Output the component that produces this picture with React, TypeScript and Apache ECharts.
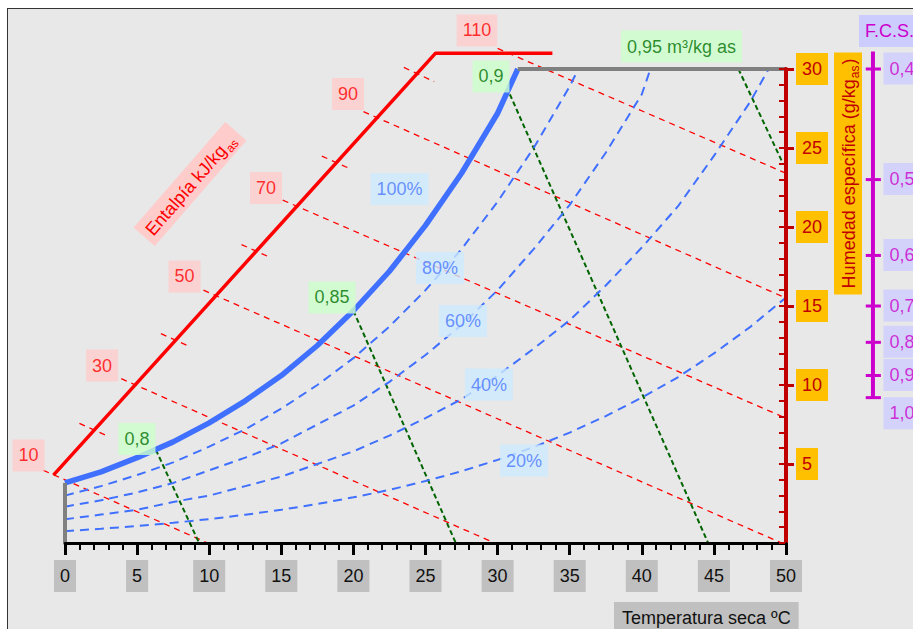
import React, { useEffect, useRef } from "react";
import * as echarts from "echarts";

const FONT = '"Liberation Sans", Arial, Helvetica, sans-serif';

// ---- Data ----
// Dry-bulb temperature (°C) for the relative humidity curves
const rhTemps = [0, 2.5, 5, 7.5, 10, 12.5, 15, 17.5, 20, 22.5, 25, 27.5, 30, 32.5, 35, 37.5, 40, 42.5, 45, 47.5, 50];
// Saturation curve (100 %)
const satTemps = [0, 2.5, 5, 7.5, 10, 12.5, 15, 17.5, 20, 22.5, 25, 27.5, 30, 31.4];
const satW = [3.8, 4.5, 5.4, 6.4, 7.6, 9.0, 10.6, 12.5, 14.7, 17.2, 20.1, 23.4, 27.2, 30.0];
// Relative humidity curves (g/kg)
const rh80W = [3.0, 3.6, 4.3, 5.1, 6.1, 7.2, 8.5, 10.0, 11.7, 13.7, 16.0, 18.6, 21.6, 25.0, 28.9];
const rh80End = [35.6, 30.0];
const rh60W = [2.3, 2.7, 3.2, 3.8, 4.6, 5.4, 6.3, 7.5, 8.7, 10.2, 11.9, 13.8, 16.0, 18.6, 21.4, 24.7, 28.4];
const rh60End = [40.6, 30.0];
const rh40W = [1.5, 1.8, 2.1, 2.6, 3.0, 3.6, 4.2, 5.0, 5.8, 6.8, 7.9, 9.1, 10.6, 12.3, 14.1, 16.3, 18.7, 21.3, 24.5, 27.9];
const rh40End = [48.8, 30.0];
const rh20W = [0.75, 0.9, 1.07, 1.28, 1.51, 1.79, 2.1, 2.47, 2.89, 3.36, 3.92, 4.54, 5.26, 6.07, 6.99, 8.03, 9.2, 10.49, 12.0, 13.66, 15.54];
const rhLabels = ["100%", "80%", "60%", "40%", "20%"];
const rhLabelPos = [[23.2, 22.4], [26.0, 17.4], [27.6, 14.05], [29.4, 10.03], [31.83, 5.22]];

// Enthalpy lines (kJ/kg as): start / end points [T, w]
const enthalpyValues = [10, 30, 50, 70, 90, 110];
const enthalpyStart = [[-1.5, 4.6], [3.9, 10.4], [9.6, 16.0], [15.1, 21.7], [20.7, 27.3], [30.0, 31.3]];
const enthalpyEnd = [[9.9, 0], [29.8, 0], [49.7, 0], [50, 7.9], [50, 15.5], [50, 23.4]];
const enthalpyLabelPos = [[-2.53, 5.54], [2.57, 11.23], [8.29, 16.87], [13.94, 22.47], [19.63, 28.42], [28.57, 32.44]];
// Intermediate enthalpy marks (20, 40, 60, 80, 100)
const enthalpyTickValues = [20, 40, 60, 80, 100];
const enthalpyTickStart = [[1.0, 7.57], [6.65, 13.25], [12.24, 18.89], [17.81, 24.49], [23.5, 30.1]];
const enthalpyTickEnd = [[3.0, 6.75], [8.65, 12.43], [14.24, 18.07], [19.81, 23.67], [25.6, 29.2]];
// Enthalpy scale line
const enthalpyScale = [[-0.8, 4.3], [25.7, 31.0], [33.8, 31.0]];

// Specific volume lines (m3/kg as)
const volumeLabels = ["0,8", "0,85", "0,9", "0,95 m³/kg as"];
const volumeStart = [[6.3, 5.9], [20.0, 14.7], [30.85, 28.4], [46.7, 30.0]];
const volumeEnd = [[9.3, 0], [27.1, 0], [44.6, 0], [49.8, 24.0]];
const volumeLabelPos = [[4.99, 6.58], [18.52, 15.54], [29.54, 29.53], [42.75, 31.42]];

// Chart boundary lines
const boundaryLeft = [[0, 0], [0, 3.8]];
const boundaryTop = [[31.4, 30], [50, 30]];

// Sensible heat factor (F.C.S.) scale
const fcsLabels = ["0,4", "0,5", "0,6", "0,7", "0,8", "0,9", "1,0"];
const fcsW = [30.0, 23.0, 18.2, 15.0, 12.7, 10.6, 9.2];
const fcsBarTopW = 31.1;
const FCS_T = 56.03;

const pairs = (xs: number[], ys: number[]) => ys.map((y, i) => [xs[i], y]);

// the series live on a wider hidden grid whose scale coincides with the visible axes
const X_PX = 721 / 50;
const Y_PX = 474 / 30;
const WIDE_X = [-4, 58];
const WIDE_Y = [-5, 34];

function lineSeries(data: any[], color: string, width: number, type: any, z = 2) {
  return {
    type: "line",
    xAxisIndex: 1,
    yAxisIndex: 2,
    data,
    showSymbol: false,
    symbol: "none",
    clip: false,
    silent: true,
    smooth: false,
    z,
    lineStyle: { color, width, type, cap: "butt" },
    emphasis: { disabled: true },
  };
}

function labelSeries(texts: string[], positions: number[][], bg: string, color: string) {
  return {
    type: "scatter",
    xAxisIndex: 1,
    yAxisIndex: 2,
    symbolSize: 1,
    clip: false,
    silent: true,
    z: 20,
    itemStyle: { color: "rgba(0,0,0,0)" },
    data: texts.map((t, i) => ({ value: positions[i], name: t })),
    label: {
      show: true,
      position: "inside",
      formatter: "{b}",
      backgroundColor: bg,
      color,
      fontSize: 18,
      fontFamily: FONT,
      lineHeight: 18,
      padding: [7, 6],
    },
    emphasis: { disabled: true },
  };
}

function buildOption() {
  const blue = "#4070ff";
  const series: any[] = [];

  enthalpyValues.forEach((_, i) => {
    series.push(lineSeries([enthalpyStart[i], enthalpyEnd[i]], "#ff0000", 1.3, [6, 5], 3));
  });
  enthalpyTickValues.forEach((_, i) => {
    series.push(lineSeries([enthalpyTickStart[i], enthalpyTickEnd[i]], "#ff0000", 1.3, [6, 5], 3));
  });
  volumeLabels.forEach((_, i) => {
    series.push(lineSeries([volumeStart[i], volumeEnd[i]], "#006400", 2, [5, 3], 4));
  });
  series.push(lineSeries(pairs(rhTemps, rh80W).concat([rh80End]), blue, 2, [9, 6], 5));
  series.push(lineSeries(pairs(rhTemps, rh60W).concat([rh60End]), blue, 2, [9, 6], 5));
  series.push(lineSeries(pairs(rhTemps, rh40W).concat([rh40End]), blue, 2, [9, 6], 5));
  series.push(lineSeries(pairs(rhTemps, rh20W), blue, 2, [9, 6], 5));
  series.push(lineSeries(pairs(satTemps, satW), blue, 5.5, "solid", 6));
  series.push(lineSeries(enthalpyScale, "#ff0000", 3.5, "solid", 6));
  series.push(lineSeries(boundaryLeft, "#808080", 4, "solid", 6));
  series.push(lineSeries(boundaryTop, "#808080", 4, "solid", 6));
  series.push(lineSeries([[FCS_T, fcsW[fcsW.length - 1]], [FCS_T, fcsBarTopW]], "#cc00cc", 4, "solid", 6));
  fcsW.forEach((w) => {
    series.push(lineSeries([[FCS_T - 0.5, w], [FCS_T + 0.55, w]], "#cc00cc", 3, "solid", 6));
  });

  series.push(labelSeries(enthalpyValues.map(String), enthalpyLabelPos, "#ffcccc", "#ff0000"));
  series.push(labelSeries(rhLabels, rhLabelPos, "#cdeaff", "#4a78ff"));
  series.push(labelSeries(volumeLabels, volumeLabelPos, "#ccffcc", "#007000"));
  series.push({
    type: "scatter",
    xAxisIndex: 1,
    yAxisIndex: 2,
    symbolSize: 1,
    clip: false,
    silent: true,
    z: 20,
    itemStyle: { color: "rgba(0,0,0,0)" },
    data: fcsLabels.map((t, i) => ({
      value: [FCS_T, fcsW[i]],
      name: t,
      label: i === fcsLabels.length - 1 ? { verticalAlign: "top" } : {},
    })),
    label: {
      show: true,
      position: [11, 0],
      align: "left",
      verticalAlign: "middle",
      formatter: "{b}",
      backgroundColor: "#ccccff",
      color: "#cc00cc",
      fontSize: 18,
      fontFamily: FONT,
      lineHeight: 18,
      padding: [7, 6],
    },
    emphasis: { disabled: true },
  });

  const richSub = (color: string) => ({
    n: { fontSize: 18, fontFamily: FONT, fill: color, color, lineHeight: 18, verticalAlign: "top" },
    s: { fontSize: 12, fontFamily: FONT, fill: color, color, lineHeight: 12, verticalAlign: "top", padding: [9, 1, 0, 1] },
  });

  const gl = 65, gr = 127, gt = 69, gb = 86;
  const wideGrid = {
    left: gl + WIDE_X[0] * X_PX,
    right: gr - (WIDE_X[1] - 50) * X_PX,
    top: gt - (WIDE_Y[1] - 30) * Y_PX,
    bottom: gb + WIDE_Y[0] * Y_PX,
    containLabel: false,
  };

  return {
    animation: false,
    backgroundColor: "transparent",
    grid: [{ left: gl, right: gr, top: gt, bottom: gb, containLabel: false }, wideGrid],
    xAxis: [
      {
        type: "value",
        gridIndex: 0,
        min: 0,
        max: 50,
        interval: 5,
        splitLine: { show: false },
        axisLine: { show: true, onZero: false, lineStyle: { color: "#000", width: 3 } },
        axisTick: { show: true, length: 12, lineStyle: { color: "#000", width: 3 } },
        minorTick: { show: true, splitNumber: 5, length: 7, lineStyle: { color: "#000", width: 2 } },
        axisLabel: {
          margin: 17,
          color: "#111",
          fontSize: 18,
          fontFamily: FONT,
          backgroundColor: "#c0c0c0",
          padding: [7, 6],
          lineHeight: 18,
        },
        z: 8,
      },
      { type: "value", gridIndex: 1, min: WIDE_X[0], max: WIDE_X[1], show: false },
    ],
    yAxis: [
      {
        type: "value",
        gridIndex: 0,
        position: "right",
        min: 0,
        max: 30,
        interval: 5,
        splitLine: { show: false },
        axisLine: { show: true, onZero: false, lineStyle: { color: "#c00000", width: 4 } },
        axisTick: { show: true, inside: false, length: 8, lineStyle: { color: "#c00000", width: 3 } },
        axisLabel: {
          show: true,
          showMinLabel: false,
          margin: 10,
          color: "#c00000",
          fontSize: 18,
          fontFamily: FONT,
          backgroundColor: "#ffc000",
          padding: [7, 6],
          lineHeight: 18,
        },
        z: 8,
      },
      {
        type: "value",
        gridIndex: 0,
        position: "right",
        min: 0,
        max: 30,
        interval: 1,
        splitLine: { show: false },
        axisLine: { show: false, onZero: false },
        axisTick: { show: true, inside: true, length: 7, lineStyle: { color: "#c00000", width: 2 } },
        axisLabel: { show: false },
        z: 8,
      },
      { type: "value", gridIndex: 1, min: WIDE_Y[0], max: WIDE_Y[1], show: false },
    ],
    graphic: [
      {
        type: "text",
        x: 614,
        y: 602,
        z: 100,
        style: {
          text: "Temperatura seca ºC",
          fontSize: 18,
          fontFamily: FONT,
          fill: "#111",
          backgroundColor: "#c0c0c0",
          padding: [7, 8],
          align: "left",
          verticalAlign: "top",
        },
      },
      {
        type: "text",
        x: 190,
        y: 184,
        z: 100,
        rotation: (49 * Math.PI) / 180,
        style: {
          text: "{n|Entalpía kJ/kg}{s|as}",
          rich: richSub("#ff0000"),
          fill: "#ff0000",
          backgroundColor: "#ffcccc",
          padding: [6, 6, 4, 6],
          align: "center",
          verticalAlign: "middle",
        },
      },
      {
        type: "text",
        x: 848,
        y: 173.5,
        z: 100,
        rotation: Math.PI / 2,
        style: {
          text: "{n|Humedad específica (g/kg}{s|as}{n|)}",
          rich: richSub("#c00000"),
          fill: "#c00000",
          backgroundColor: "#ffc000",
          padding: [6, 6, 4, 6],
          align: "center",
          verticalAlign: "middle",
        },
      },
      {
        type: "text",
        x: 859,
        y: 15,
        z: 100,
        style: {
          text: "F.C.S.",
          fontSize: 18,
          fontFamily: FONT,
          fill: "#cc00cc",
          backgroundColor: "#ccccff",
          padding: [7, 6],
          align: "left",
          verticalAlign: "top",
        },
      },
    ],
    series,
  };
}

export default function App() {
  const ref = useRef<HTMLDivElement>(null);
  useEffect(() => {
    const chart = echarts.init(ref.current as HTMLDivElement, null, { renderer: "svg" });
    chart.setOption(buildOption() as any);
    return () => chart.dispose();
  }, []);
  return (
    <div style={{ position: "fixed", left: 0, top: 0, width: 913, height: 629, overflow: "hidden", background: "#fff" }}>
      <div
        style={{
          position: "absolute",
          left: 7,
          top: 8,
          width: 1000,
          height: 1000,
          border: "1.5px solid #333",
          background: "#e8e8e8",
        }}
      />
      <div ref={ref} style={{ position: "absolute", left: 0, top: 0, width: 913, height: 629 }} />
    </div>
  );
}
